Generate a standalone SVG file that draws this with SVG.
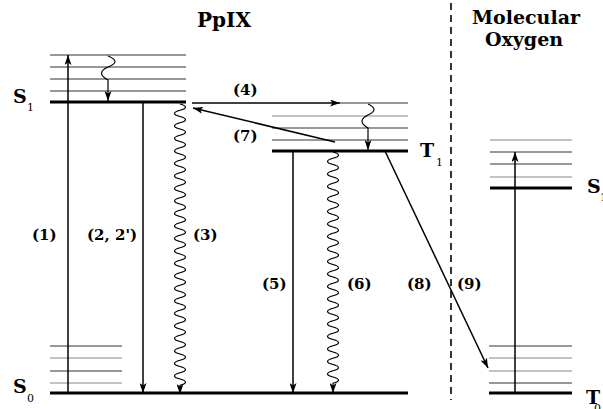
<svg xmlns="http://www.w3.org/2000/svg" width="603" height="409" viewBox="0 0 603 409">
<style>
.lvl{stroke:#333;stroke-width:1.2;fill:none}
.lvlg{stroke:#888;stroke-width:1.2;fill:none}
.thick{stroke:#000;stroke-width:3;fill:none}
.arr{stroke:#000;stroke-width:1.5;fill:none;marker-end:url(#ah)}
.wave{stroke:#000;stroke-width:1.2;fill:none;marker-end:url(#ah)}
.t{font-family:"DejaVu Serif","Liberation Serif",serif;font-weight:bold;fill:#000}
.lab{font-size:15px}
.big{font-size:19px}
.sub{font-family:"DejaVu Serif","Liberation Serif",serif;font-size:11px;fill:#000}
</style>
<defs>
<marker id="ah" viewBox="0 0 10 7" markerWidth="10" markerHeight="7" refX="10" refY="3.5" markerUnits="userSpaceOnUse" orient="auto">
<path d="M0,0 L10,3.5 L0,7 L2.5,3.5 Z" fill="#000"/>
</marker>
</defs>

<g id="title-ppix"><text class="t" x="224" y="27" font-size="20" text-anchor="middle">PpIX</text></g>
<g id="title-oxygen">
<text class="t" x="526" y="24" font-size="19" text-anchor="middle">Molecular</text>
<text class="t" x="524" y="46" font-size="19" text-anchor="middle">Oxygen</text>
</g>
<g id="divider"><line x1="451" y1="3" x2="451" y2="400" stroke="#000" stroke-width="1.6" stroke-dasharray="7 5"/></g>

<g id="S1">
<line class="lvl" x1="50" y1="55" x2="186" y2="55"/>
<line class="lvl" x1="50" y1="67" x2="186" y2="67"/>
<line class="lvl" x1="50" y1="79" x2="186" y2="79"/>
<line class="lvl" x1="50" y1="91" x2="186" y2="91"/>
<line class="thick" x1="50" y1="102" x2="186" y2="102"/>
<text class="t big" x="13" y="103">S</text><text class="sub" x="27" y="111">1</text>
</g>

<g id="S0">
<line class="lvl" x1="50" y1="346" x2="122" y2="346"/>
<line class="lvlg" x1="50" y1="358" x2="122" y2="358"/>
<line class="lvl" x1="50" y1="371" x2="122" y2="371"/>
<line class="lvlg" x1="50" y1="383" x2="122" y2="383"/>
<line class="thick" x1="50" y1="393" x2="408" y2="393"/>
<text class="t big" x="13" y="393">S</text><text class="sub" x="27" y="402">0</text>
</g>

<g id="T1">
<line class="lvl" x1="340" y1="103" x2="408" y2="103"/>
<line class="lvlg" x1="272" y1="116" x2="408" y2="116"/>
<line class="lvl" x1="272" y1="128" x2="408" y2="128"/>
<line class="lvl" x1="272" y1="140" x2="408" y2="140"/>
<line class="thick" x1="272" y1="151" x2="408" y2="151"/>
<text class="t big" x="420" y="157">T</text><text class="sub" x="436" y="166">1</text>
</g>

<g id="O2-S1">
<line class="lvlg" x1="490" y1="140" x2="572" y2="140"/>
<line class="lvl" x1="490" y1="152" x2="572" y2="152"/>
<line class="lvl" x1="490" y1="164" x2="572" y2="164"/>
<line class="lvlg" x1="490" y1="177" x2="572" y2="177"/>
<line class="thick" x1="490" y1="188" x2="572" y2="188"/>
<text class="t big" x="587" y="193">S</text><text class="sub" x="600" y="201">1</text>
</g>

<g id="O2-T0">
<line class="lvl" x1="489" y1="346" x2="572" y2="346"/>
<line class="lvlg" x1="489" y1="358" x2="572" y2="358"/>
<line class="lvlg" x1="489" y1="371" x2="572" y2="371"/>
<line class="lvl" x1="489" y1="383" x2="572" y2="383"/>
<line class="thick" x1="489" y1="393" x2="572" y2="393"/>
<text class="t big" x="586" y="404">T</text><text class="sub" x="594" y="412">0</text>
</g>

<g id="connectors">
<line class="arr" x1="68" y1="393" x2="68" y2="55"/>
<path class="wave" d="M108,56 q14,5.5 0,11 q-13,6 0,13 v21"/>
<line class="arr" x1="143" y1="102" x2="143" y2="393"/>
<path class="wave" d="M180,104 q11,3.125 0,6.25 t0,6.25 t0,6.25 t0,6.25 t0,6.25 t0,6.25 t0,6.25 t0,6.25 t0,6.25 t0,6.25 t0,6.25 t0,6.25 t0,6.25 t0,6.25 t0,6.25 t0,6.25 t0,6.25 t0,6.25 t0,6.25 t0,6.25 t0,6.25 t0,6.25 t0,6.25 t0,6.25 t0,6.25 t0,6.25 t0,6.25 t0,6.25 t0,6.25 t0,6.25 t0,6.25 t0,6.25 t0,6.25 t0,6.25 t0,6.25 t0,6.25 t0,6.25 t0,6.25 t0,6.25 t0,6.25 t0,6.25 t0,6.25 t0,6.25 t0,6.25 t0,6.25 v8.75"/>
<line class="arr" x1="192" y1="103" x2="340" y2="103"/>
<line class="arr" x1="335" y1="142" x2="193" y2="108"/>
<path class="wave" d="M368,104 q12,5.5 0,11 q-12,6 0,13 v22"/>
<line class="arr" x1="293" y1="151" x2="293" y2="393"/>
<path class="wave" d="M333,152 q11,3.125 0,6.25 t0,6.25 t0,6.25 t0,6.25 t0,6.25 t0,6.25 t0,6.25 t0,6.25 t0,6.25 t0,6.25 t0,6.25 t0,6.25 t0,6.25 t0,6.25 t0,6.25 t0,6.25 t0,6.25 t0,6.25 t0,6.25 t0,6.25 t0,6.25 t0,6.25 t0,6.25 t0,6.25 t0,6.25 t0,6.25 t0,6.25 t0,6.25 t0,6.25 t0,6.25 t0,6.25 t0,6.25 t0,6.25 t0,6.25 t0,6.25 t0,6.25 t0,6.25 v9.75"/>
<line class="arr" x1="385" y1="151" x2="488" y2="368"/>
<line class="arr" x1="515" y1="393" x2="515" y2="152"/>
</g>

<g id="labels">
<text class="t lab" x="32" y="240">(1)</text>
<text class="t lab" x="87" y="240">(2, 2')</text>
<text class="t lab" x="193" y="240">(3)</text>
<text class="t lab" x="233" y="95">(4)</text>
<text class="t lab" x="233" y="141">(7)</text>
<text class="t lab" x="262" y="289">(5)</text>
<text class="t lab" x="347" y="289">(6)</text>
<text class="t lab" x="407" y="289">(8)</text>
<text class="t lab" x="457" y="289">(9)</text>
</g>
</svg>
